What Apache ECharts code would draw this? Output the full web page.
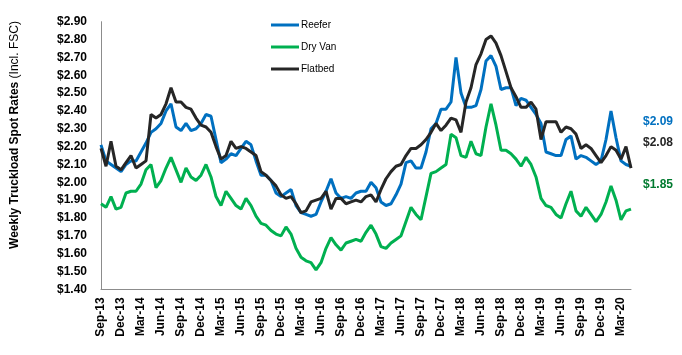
<!DOCTYPE html>
<html>
<head>
<meta charset="utf-8">
<script src="https://cdn.jsdelivr.net/npm/echarts@6/dist/echarts.min.js"></script>
<style>
html,body{margin:0;padding:0;background:#fff;}
#chart{width:682px;height:355px;}
</style>
</head>
<body>
<div id="chart"></div>
<script>
// Quarterly tick labels (one every 4 samples)
var tickLabels = ['Sep-13','Dec-13','Mar-14','Jun-14','Sep-14','Dec-14','Mar-15','Jun-15','Sep-15','Dec-15',
  'Mar-16','Jun-16','Sep-16','Dec-16','Mar-17','Jun-17','Sep-17','Dec-17','Mar-18','Jun-18','Sep-18','Dec-18',
  'Mar-19','Jun-19','Sep-19','Dec-19','Mar-20'];
var seriesNames = ['Reefer','Dry Van','Flatbed'];
// samples every ~quarter/4 (about 3 weeks), starting Sep-13
var reefer = [2.21,2.12,2.10,2.08,2.06,2.10,2.12,2.12,2.17,2.22,
  2.28,2.30,2.33,2.40,2.44,2.31,2.29,2.33,2.29,2.30,
  2.33,2.38,2.37,2.24,2.11,2.13,2.16,2.15,2.19,2.23,
  2.21,2.12,2.04,2.04,2.01,1.94,1.92,1.94,1.96,1.87,
  1.83,1.82,1.81,1.82,1.89,1.95,2.02,1.94,1.91,1.92,
  1.91,1.94,1.95,1.95,2.00,1.97,1.89,1.87,1.88,1.93,
  1.99,2.11,2.12,2.08,2.08,2.17,2.30,2.33,2.41,2.41,
  2.45,2.70,2.50,2.42,2.42,2.43,2.52,2.68,2.71,2.65,
  2.52,2.53,2.53,2.43,2.47,2.46,2.42,2.38,2.33,2.17,
  2.16,2.15,2.15,2.24,2.26,2.13,2.15,2.14,2.12,2.10,
  2.12,2.24,2.40,2.25,2.12,2.10,2.09];
var dryVan = [1.88,1.86,1.92,1.85,1.86,1.94,1.95,1.95,1.99,2.07,
  2.10,1.97,2.01,2.08,2.14,2.07,2.00,2.08,2.03,2.01,
  2.04,2.10,2.03,1.92,1.87,1.95,1.91,1.87,1.85,1.91,
  1.87,1.81,1.77,1.76,1.73,1.71,1.70,1.75,1.71,1.63,
  1.58,1.56,1.55,1.51,1.55,1.63,1.69,1.65,1.62,1.66,
  1.67,1.68,1.67,1.72,1.76,1.71,1.64,1.63,1.66,1.68,
  1.70,1.78,1.86,1.82,1.79,1.92,2.05,2.06,2.08,2.10,
  2.27,2.25,2.15,2.14,2.23,2.16,2.15,2.31,2.44,2.32,
  2.18,2.18,2.16,2.13,2.09,2.14,2.10,2.03,1.91,1.87,
  1.86,1.82,1.80,1.88,1.95,1.84,1.81,1.86,1.82,1.78,
  1.82,1.89,1.98,1.90,1.79,1.84,1.85];
var flatbed = [2.19,2.09,2.23,2.09,2.07,2.11,2.15,2.08,2.10,2.12,
  2.38,2.36,2.38,2.44,2.53,2.45,2.45,2.42,2.41,2.36,
  2.32,2.31,2.28,2.20,2.13,2.15,2.23,2.19,2.20,2.19,
  2.17,2.15,2.06,2.04,2.01,1.98,1.93,1.91,1.92,1.88,
  1.83,1.84,1.89,1.90,1.91,1.95,1.85,1.91,1.91,1.88,
  1.89,1.90,1.89,1.92,1.93,1.89,1.96,2.02,2.06,2.09,
  2.10,2.15,2.19,2.19,2.21,2.24,2.28,2.33,2.29,2.32,
  2.36,2.35,2.28,2.45,2.53,2.66,2.72,2.80,2.82,2.78,
  2.71,2.62,2.53,2.48,2.42,2.42,2.45,2.41,2.24,2.34,
  2.34,2.34,2.28,2.31,2.30,2.27,2.19,2.21,2.19,2.15,
  2.11,2.15,2.20,2.18,2.13,2.20,2.08];
var colors = ['#0070C0','#00B050','#262626'];
var endColors = ['#0070C0','#262626','#007A2F'];

function pairs(arr){ return arr.map(function(v,i){ return [i, v]; }); }
var lastIdx = reefer.length - 1;
function money(v){ return '$' + v.toFixed(2); }

var chart = echarts.init(document.getElementById('chart'), null, {renderer:'canvas'});
var font = '"Liberation Sans", Arial, sans-serif';
chart.setOption({
  animation:false,
  backgroundColor:'#fff',
  color: colors,
  grid:{left:101, top:21.7, width:530, height:267.7, containLabel:false},
  legend:{
    orient:'vertical', left:266, top:15, itemGap:12,
    itemWidth:28, itemHeight:3, icon:'rect',
    textStyle:{fontFamily:font, fontSize:10, color:'#000', padding:[0,0,0,-3]},
    data: seriesNames
  },
  xAxis:{
    type:'value', min:0, max:lastIdx, interval:4,
    axisLine:{show:true, lineStyle:{color:'#8c8c8c', width:1}},
    axisTick:{show:false}, splitLine:{show:false},
    axisLabel:{
      rotate:90, margin:8, fontFamily:font, fontSize:12, fontWeight:'bold', color:'#000',
      showMaxLabel:false,
      formatter:function(v){ return (v % 4 === 0 && tickLabels[v/4]) ? tickLabels[v/4] : ''; }
    }
  },
  yAxis:{
    type:'value', min:1.4, max:2.9, interval:0.1,
    axisLine:{show:true, lineStyle:{color:'#8c8c8c', width:1}},
    axisTick:{show:false}, splitLine:{show:false},
    axisLabel:{margin:14, fontFamily:font, fontSize:12, fontWeight:'bold', color:'#000',
      formatter:function(v){ return money(v); }}
  },
  series:[
    {name:seriesNames[0], type:'line', data:pairs(reefer), symbol:'none', lineStyle:{width:3, color:colors[0]}},
    {name:seriesNames[1], type:'line', data:pairs(dryVan), symbol:'none', lineStyle:{width:3, color:colors[1]}},
    {name:seriesNames[2], type:'line', data:pairs(flatbed), symbol:'none', lineStyle:{width:3, color:colors[2]}}
  ],
  graphic:[
    {type:'text', x:15, y:135, rotation:Math.PI/2,
     style:{text:'{b|Weekly Truckload Spot Rates} {n|(Incl. FSC)}', align:'center', verticalAlign:'middle',
       fill:'#000', fontFamily:font, fontSize:12,
       rich:{b:{fontWeight:'bold', fontSize:12, fontFamily:font, fill:'#000'},
             n:{fontWeight:'normal', fontSize:12, fontFamily:font, fill:'#000'}}}},
    {type:'text', x:643, y:122, style:{text:money(reefer[lastIdx]), fill:endColors[0], fontFamily:font, fontSize:12, fontWeight:'bold', verticalAlign:'middle'}},
    {type:'text', x:643, y:143, style:{text:money(flatbed[lastIdx]), fill:endColors[1], fontFamily:font, fontSize:12, fontWeight:'bold', verticalAlign:'middle'}},
    {type:'text', x:643, y:185, style:{text:money(dryVan[lastIdx]), fill:endColors[2], fontFamily:font, fontSize:12, fontWeight:'bold', verticalAlign:'middle'}}
  ]
});
</script>
</body>
</html>
